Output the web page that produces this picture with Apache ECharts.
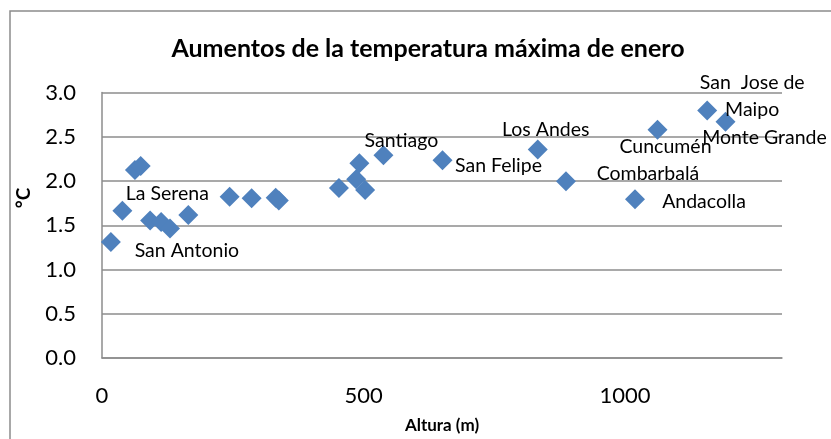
<!DOCTYPE html>
<html><head><meta charset="utf-8">
<script src="https://cdn.jsdelivr.net/npm/echarts@6/dist/echarts.min.js"></script>
<style>html,body{margin:0;padding:0;background:#fff}#c{width:831px;height:439px}</style>
</head><body><div id="c"></div>
<script>
const altitudes = [17, 39, 63, 74, 92, 113, 130, 165, 244, 286, 332, 338, 453, 486, 492, 503, 538, 651, 833, 887, 1019, 1062, 1157, 1192];
const temps = [1.31, 1.665, 2.125, 2.17, 1.555, 1.536, 1.462, 1.617, 1.823, 1.805, 1.81, 1.78, 1.92, 2.02, 2.2, 1.897, 2.29, 2.235, 2.357, 1.997, 1.794, 2.578, 2.796, 2.67];
const names = ['San Antonio', 'La Serena', '', '', '', '', '', '', '', '', '', '', '', '', '', '', 'Santiago', 'San Felipe', 'Los Andes', 'Combarbalá', 'Andacolla', 'Cuncumén', 'San  Jose de\nMaipo', 'Monte Grande'];
const yTicks = [0, 0.5, 1, 1.5, 2, 2.5, 3];
const xTicks = [0, 500, 1000];

const labelOffsets = {
  'San Antonio': [76, 9], 'La Serena': [45, -17], 'Santiago': [18, -15], 'San Felipe': [56, 6],
  'Los Andes': [8, -20], 'Combarbalá': [82, -8], 'Andacolla': [69, 2], 'Cuncumén': [8, 17],
  'San  Jose de\nMaipo': [45, -14], 'Monte Grande': [39, 16]
};

const font = 'Lato, "Liberation Sans", sans-serif';
const gray = '#8c8c8c';
const data = altitudes.map((x, i) => {
  const item = { value: [x, temps[i]], name: names[i] };
  if (names[i]) {
    item.label = { show: true, formatter: names[i], position: 'inside', offset: labelOffsets[names[i]],
      align: 'center', verticalAlign: 'middle', color: '#000', fontFamily: font, fontSize: 19.5, lineHeight: 27 };
  }
  return item;
});

const chart = echarts.init(document.getElementById('c'));
chart.setOption({
  animation: false,
  backgroundColor: '#fff',
  title: { text: 'Aumentos de la temperatura máxima de enero', left: 423, textAlign: 'center', top: 31,
    textStyle: { fontFamily: font, fontWeight: 'bold', fontSize: 25, color: '#000' } },
  graphic: [
    { type: 'rect', shape: { x: 10, y: 11, width: 900, height: 600 }, style: { fill: 'none', stroke: gray, lineWidth: 1.5 }, silent: true },
    { type: 'text', x: 24, y: 198, rotation: Math.PI / 2, style: { text: '°C', fontFamily: font, fontWeight: 'bold', fontSize: 19, fill: '#000', align: 'center', verticalAlign: 'middle' } }
  ],
  grid: { left: 102, right: 49, top: 92.5, bottom: 75 },
  xAxis: {
    type: 'value', min: xTicks[0], max: 1300, interval: 500,
    name: 'Altura (m)', nameLocation: 'middle', nameGap: 59,
    nameTextStyle: { fontFamily: font, fontWeight: 'bold', fontSize: 17, color: '#000' },
    axisLine: { show: true, lineStyle: { color: gray, width: 1.5 } },
    axisTick: { show: false },
    splitLine: { show: false },
    axisLabel: { showMaxLabel: false, margin: 27, fontFamily: font, fontSize: 22, color: '#000', formatter: v => String(v) }
  },
  yAxis: {
    type: 'value', min: yTicks[0], max: yTicks[yTicks.length - 1], interval: 0.5,
    axisLine: { show: true, lineStyle: { color: gray, width: 1.5 } },
    axisTick: { show: false },
    splitLine: { show: true, lineStyle: { color: gray, width: 1.5 } },
    axisLabel: { margin: 26, fontFamily: font, fontSize: 22, color: '#000', formatter: v => v.toFixed(1) }
  },
  series: [{
    type: 'scatter', symbol: 'diamond', symbolSize: 20,
    itemStyle: { color: '#4F81BD', opacity: 1 },
    data: data
  }]
});
</script></body></html>
